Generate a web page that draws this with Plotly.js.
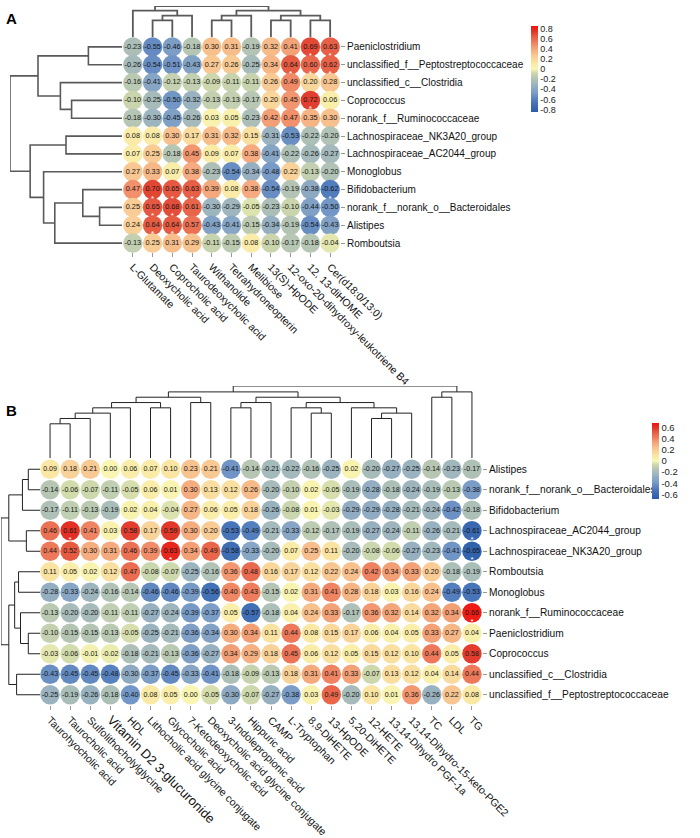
<!DOCTYPE html>
<html><head><meta charset="utf-8">
<script src="https://cdn.plot.ly/plotly-3.0.1.min.js"></script>
<style>html,body{margin:0;padding:0;background:#fff}#chart{width:700px;height:838px}</style>
</head><body><div id="chart"></div>
<script>
// ---------- Panel A data ----------
const aCols = ["L-Glutamate","Deoxycholic acid","Coprocholic acid","Taurodeoxycholic acid","Withanolide","Tetrahydroneopterin","Melibiose","13(S)-HpODE","12-oxo-20-dihydroxy-leukotriene B4","12, 13-diHOME","Cer(d18:0/13:0)"];
const aRows = ["Paeniclostridium","unclassified_f__Peptostreptococcaceae","unclassified_c__Clostridia","Coprococcus","norank_f__Ruminococcaceae","Lachnospiraceae_NK3A20_group","Lachnospiraceae_AC2044_group","Monoglobus","Bifidobacterium","norank_f__norank_o__Bacteroidales","Alistipes","Romboutsia"];
const aValues = [
 [-0.23,-0.55,-0.46,-0.18,0.30,0.31,-0.19,0.32,0.41,0.69,0.63],
 [-0.26,-0.54,-0.51,-0.43,0.27,0.26,-0.25,0.34,0.64,0.60,0.62],
 [-0.16,-0.41,-0.12,-0.13,-0.09,-0.11,-0.11,0.26,0.49,0.20,0.28],
 [-0.10,-0.25,-0.50,-0.32,-0.13,-0.13,-0.17,0.20,0.45,0.72,0.06],
 [-0.18,-0.30,-0.45,-0.26,0.03,0.05,-0.23,0.42,0.47,0.35,0.30],
 [0.08,0.08,0.30,0.17,0.31,0.32,0.15,-0.31,-0.53,-0.22,-0.20],
 [0.07,0.25,-0.18,0.45,0.09,0.07,0.38,-0.41,-0.22,-0.26,-0.27],
 [0.27,0.33,0.07,0.38,-0.23,-0.54,-0.34,-0.48,0.22,-0.13,-0.20],
 [0.47,0.70,0.65,0.63,0.39,0.08,0.38,-0.54,-0.19,-0.38,-0.62],
 [0.25,0.65,0.68,0.61,-0.30,-0.29,-0.05,-0.23,-0.10,-0.44,-0.50],
 [0.24,0.64,0.64,0.57,-0.43,-0.41,-0.15,-0.34,-0.19,-0.54,-0.43],
 [-0.13,0.25,0.31,0.29,-0.11,-0.15,0.08,-0.10,-0.17,-0.18,-0.04]
];
const aSig = [[0,9],[0,10],[1,8],[1,9],[1,10],[3,9],[8,1],[8,2],[8,3],[8,10],[9,1],[9,2],[10,1],[10,2]];
// dendrogram merges: [childA, childB, height]; ids >= n are earlier merges
const aColMerges = [[1,2,0.536],[11,3,0.69],[0,12,0.85],[4,5,0.536],[14,6,0.69],[7,8,0.536],[9,10,0.536],[16,17,0.69],[15,18,0.85],[13,19,1.0]];
const aRowMerges = [[0,1,0.3],[3,4,0.45],[2,13,0.55],[12,14,0.75],[5,6,0.5],[9,10,0.2],[8,17,0.35],[18,11,0.6],[7,19,0.7],[16,20,0.82],[15,21,1.0]];
const aTickVals = [0.8,0.6,0.4,0.2,0,-0.2,-0.4,-0.6,-0.8];
const aTickText = ["0.8","0.6","0.4","0.2","0","-0.2","-0.4","-0.6","-0.8"];

// ---------- Panel B data ----------
const bCols = ["Taurohyocholic acid","Taurocholic acid","Sulfolithocholylglycine","Vitamin D2 3-glucuronide","HDL","Lithocholic acid glycine conjugate","Glycocholic acid","7-Ketodeoxycholic acid","Deoxycholic acid glycine conjugate","3-Indolepropionic acid","Hippuric acid","CAMP","L-Tryptophan","8,9-DiHETE","13-HpODE","5,20-DiHETE","12-HETE","13,14-Dihydro PGF-1a","13,14-Dihydro-15-keto-PGE2","TC","LDL","TG"];
const bRows = ["Alistipes","norank_f__norank_o__Bacteroidales","Bifidobacterium","Lachnospiraceae_AC2044_group","Lachnospiraceae_NK3A20_group","Romboutsia","Monoglobus","norank_f__Ruminococcaceae","Paeniclostridium","Coprococcus","unclassified_c__Clostridia","unclassified_f__Peptostreptococcaceae"];
const bValues = [
 [0.09,0.18,0.21,0.00,0.06,0.07,0.10,0.23,0.21,-0.41,-0.14,-0.21,-0.22,-0.16,-0.25,0.02,-0.20,-0.27,-0.25,-0.14,-0.23,-0.17],
 [-0.14,-0.06,-0.07,-0.11,-0.05,0.06,0.01,0.30,0.13,0.12,0.26,-0.20,-0.10,0.02,-0.05,-0.19,-0.28,-0.18,-0.24,-0.19,-0.13,-0.38],
 [-0.17,-0.11,-0.13,-0.19,0.02,0.04,-0.04,0.27,0.06,0.05,0.18,-0.26,-0.08,0.01,-0.03,-0.29,-0.29,-0.28,-0.21,-0.24,-0.42,-0.18],
 [0.46,0.61,0.41,0.03,0.58,0.17,0.59,0.30,0.20,-0.53,-0.49,-0.21,-0.33,-0.12,-0.17,-0.19,-0.27,-0.24,-0.11,-0.26,-0.21,-0.61],
 [0.44,0.52,0.30,0.31,0.46,0.39,0.63,0.34,0.49,-0.58,-0.33,-0.20,0.07,0.25,0.11,-0.20,-0.08,-0.06,-0.27,-0.23,-0.41,-0.65],
 [0.11,0.05,0.02,0.12,0.47,-0.08,-0.07,-0.25,-0.16,0.36,0.48,0.16,0.17,0.12,0.22,0.24,0.42,0.34,0.33,0.20,-0.18,-0.19],
 [-0.28,-0.33,-0.24,-0.16,-0.14,-0.46,-0.46,-0.39,-0.56,0.40,0.43,-0.15,0.02,0.31,0.41,0.28,0.18,0.03,0.16,0.24,-0.49,-0.53],
 [-0.13,-0.20,-0.20,-0.11,-0.11,-0.27,-0.24,-0.39,-0.37,0.05,-0.57,-0.18,0.04,0.24,0.33,-0.17,0.36,0.32,0.14,0.32,0.34,0.66],
 [-0.10,-0.15,-0.15,-0.13,-0.05,-0.25,-0.21,-0.36,-0.34,0.30,0.34,0.11,0.44,0.08,0.15,0.17,0.06,0.04,0.05,0.33,0.27,0.04],
 [-0.03,-0.06,-0.01,-0.02,-0.18,-0.21,-0.13,-0.36,-0.27,0.34,0.29,0.18,0.45,0.06,0.12,0.05,0.15,0.12,0.10,0.44,0.05,0.58],
 [-0.43,-0.45,-0.45,-0.48,-0.30,-0.37,-0.45,-0.33,-0.41,-0.18,-0.09,-0.13,0.18,0.31,0.41,0.33,-0.07,0.13,0.12,0.04,0.14,0.44],
 [-0.25,-0.19,-0.26,-0.18,-0.40,0.08,0.05,0.00,-0.05,-0.30,-0.07,-0.27,-0.38,0.03,0.49,-0.20,0.10,0.01,0.36,-0.26,0.22,0.08]
];
const bSig = [[3,1],[3,21],[4,6],[4,21],[7,21]];
const bColMerges = [[0,1,0.475],[22,2,0.549],[23,3,0.623],[24,4,0.697],[5,6,0.697],[25,26,0.77],[7,8,0.77],[27,28,0.844],[9,10,0.697],[30,11,0.77],[13,14,0.623],[12,32,0.697],[16,17,0.549],[34,18,0.623],[15,35,0.697],[33,36,0.77],[31,37,0.844],[29,38,0.918],[19,20,0.844],[40,21,0.918],[39,41,1.0]];
const bRowMerges = [[0,1,0.3],[12,2,0.45],[3,4,0.35],[13,14,0.8],[5,6,0.55],[8,9,0.3],[7,17,0.5],[16,18,0.65],[10,11,0.6],[19,20,0.8],[15,21,1.0]];
const bTickVals = [0.6,0.4,0.2,0,-0.2,-0.4,-0.6];
const bTickText = ["0.6","0.4","0.2","0","-0.2","-0.4","-0.6"];

// ---------- helpers ----------
const W = 700, H = 838;
const FONT = "Liberation Sans, Arial, Helvetica, sans-serif";
const xd = (a,b) => [a/W, b/W];
const yd = (top,bottom) => [1-bottom/H, 1-top/H];
const colorscale = [
 [0.00,'#2b5ca8'],[0.12,'#4a77bb'],[0.22,'#799bc7'],[0.32,'#9cb4bf'],[0.40,'#b7c7b3'],
 [0.46,'#d3dcac'],[0.50,'#f9f6b3'],[0.56,'#fae9a5'],[0.64,'#f9cf97'],[0.72,'#f5ad80'],
 [0.80,'#ef8462'],[0.88,'#e65a42'],[0.94,'#e13226'],[1.00,'#f4120c']
];

function heatTraces(values, sig, xa, ya, cmax, size, fsize, starOff, cbar){
  const x=[],y=[],c=[],t=[];
  values.forEach((row,r)=>row.forEach((v,k)=>{x.push(k);y.push(r);c.push(v);t.push(v.toFixed(2));}));
  const main = {type:'scatter',mode:'markers+text',x,y,text:t,xaxis:xa,yaxis:ya,
    textposition:'middle center',textfont:{family:FONT,size:fsize,color:'#161616'},
    marker:{size:size,color:c,colorscale:colorscale,cmin:-cmax,cmax:cmax,line:{width:0},
      showscale:true,colorbar:cbar},
    hoverinfo:'skip',showlegend:false,cliponaxis:false};
  const sx=[],sy=[];
  sig.forEach(([r,k])=>{sx.push(k);sy.push(r+starOff);});
  const stars = {type:'scatter',mode:'text',x:sx,y:sy,text:sx.map(()=> '*'),xaxis:xa,yaxis:ya,
    textposition:'middle center',textfont:{family:FONT,size:8,color:'#ffffff'},
    hoverinfo:'skip',showlegend:false,cliponaxis:false};
  return [main,stars];
}

function dendro(merges, n, horizontal, xa, ya, color, width){
  const pos = [], hgt = [];
  for(let i=0;i<n;i++){pos.push(i);hgt.push(0);}
  const xs=[], ys=[];
  merges.forEach(([a,b,h])=>{
    const pa=pos[a], pb=pos[b], ha=hgt[a], hb=hgt[b];
    const px=[pa,pa,pb,pb], py=[ha,h,h,hb];
    if(horizontal){ xs.push(...px,null); ys.push(...py,null); }
    else { xs.push(...py,null); ys.push(...px,null); }
    pos.push((pa+pb)/2); hgt.push(h);
  });
  return {type:'scatter',mode:'lines',x:xs,y:ys,xaxis:xa,yaxis:ya,
    line:{color:color,width:width},hoverinfo:'skip',showlegend:false,cliponaxis:false};
}

// ---------- geometry (pixels) ----------
const aHeatX = xd(123,340), aHeatY = yd(38,252);
const bHeatX = xd(40,482), bHeatY = yd(459,705);

const cbA = {x:531/W,xanchor:'left',y:1-69/H,yanchor:'middle',len:86,lenmode:'pixels',
  thickness:7,xpad:0,ypad:0,outlinewidth:0,ticks:'',tickvals:aTickVals,ticktext:aTickText,
  tickfont:{family:FONT,size:9,color:'#222'}};
const cbB = {x:652/W,xanchor:'left',y:1-461/H,yanchor:'middle',len:76,lenmode:'pixels',
  thickness:7,xpad:0,ypad:0,outlinewidth:0,ticks:'',tickvals:bTickVals,ticktext:bTickText,
  tickfont:{family:FONT,size:9.5,color:'#222'}};

const traces = [
  ...heatTraces(aValues,aSig,'x','y',0.85,19.5,7.3,0.5,cbA),
  dendro(aColMerges,aCols.length,true,'x2','y2','#5a5a5a',1.8),
  dendro(aRowMerges,aRows.length,false,'x3','y3','#5a5a5a',1.6),
  ...heatTraces(bValues,bSig,'x4','y4',0.685,19.5,7.1,0.45,cbB),
  dendro(bColMerges,bCols.length,true,'x5','y5','#222',1),
  dendro(bRowMerges,bRows.length,false,'x6','y6','#222',1)
];

const hidden = {showgrid:false,zeroline:false,showticklabels:false,showline:false,ticks:'',fixedrange:true,automargin:false};
const bColText = bCols.map(s => s==="Vitamin D2 3-glucuronide" ? '<span style="font-size:13px">'+s+'</span>' : s);

const layout = {
  width:W,height:H,autosize:false,margin:{l:0,r:0,t:0,b:0},
  paper_bgcolor:'#fff',plot_bgcolor:'rgba(0,0,0,0)',
  font:{family:FONT,color:'#111'},
  xaxis:{domain:aHeatX,range:[-0.5,aCols.length-0.5],tickmode:'array',tickvals:aCols.map((_,i)=>i),ticktext:aCols,
    tickangle:45,ticks:'outside',ticklen:4,tickcolor:'#999',showgrid:false,zeroline:false,showline:false,
    tickfont:{family:FONT,size:10.5,color:'#111'},automargin:false,fixedrange:true},
  yaxis:{domain:aHeatY,range:[aRows.length-0.5,-0.5],side:'right',tickmode:'array',tickvals:aRows.map((_,i)=>i),ticktext:aRows,
    ticks:'outside',ticklen:4,tickcolor:'#999',showgrid:false,zeroline:false,showline:false,
    tickfont:{family:FONT,size:10,color:'#111'},automargin:false,fixedrange:true},
  xaxis2:Object.assign({},hidden,{domain:aHeatX,range:[-0.5,aCols.length-0.5],anchor:'y2'}),
  yaxis2:Object.assign({},hidden,{domain:yd(6,37),range:[0,1],anchor:'x2'}),
  xaxis3:Object.assign({},hidden,{domain:xd(10,122),range:[1,0],anchor:'y3'}),
  yaxis3:Object.assign({},hidden,{domain:aHeatY,range:[aRows.length-0.5,-0.5],anchor:'x3'}),
  xaxis4:{domain:bHeatX,range:[-0.5,bCols.length-0.5],anchor:'y4',tickmode:'array',tickvals:bCols.map((_,i)=>i),ticktext:bColText,
    tickangle:45,ticks:'outside',ticklen:4,tickcolor:'#999',showgrid:false,zeroline:false,showline:false,
    tickfont:{family:FONT,size:10.5,color:'#111'},automargin:false,fixedrange:true},
  yaxis4:{domain:bHeatY,range:[bRows.length-0.5,-0.5],anchor:'x4',side:'right',tickmode:'array',tickvals:bRows.map((_,i)=>i),ticktext:bRows,
    ticks:'outside',ticklen:4,tickcolor:'#999',showgrid:false,zeroline:false,showline:false,
    tickfont:{family:FONT,size:10.2,color:'#111'},automargin:false,fixedrange:true},
  xaxis5:Object.assign({},hidden,{domain:bHeatX,range:[-0.5,bCols.length-0.5],anchor:'y5'}),
  yaxis5:Object.assign({},hidden,{domain:yd(386,458),range:[0,1],anchor:'x5'}),
  xaxis6:Object.assign({},hidden,{domain:xd(1,40),range:[1,0],anchor:'y6'}),
  yaxis6:Object.assign({},hidden,{domain:bHeatY,range:[bRows.length-0.5,-0.5],anchor:'x6'}),
  annotations:[
    {text:'<b>A</b>',xref:'paper',yref:'paper',x:4/W,y:1-18/H,xanchor:'left',yanchor:'middle',showarrow:false,font:{family:FONT,size:15,color:'#000'}},
    {text:'<b>B</b>',xref:'paper',yref:'paper',x:4/W,y:1-410/H,xanchor:'left',yanchor:'middle',showarrow:false,font:{family:FONT,size:15,color:'#000'}}
  ]
};
Plotly.newPlot('chart',traces,layout,{displayModeBar:false,staticPlot:true});
</script>
</body></html>
